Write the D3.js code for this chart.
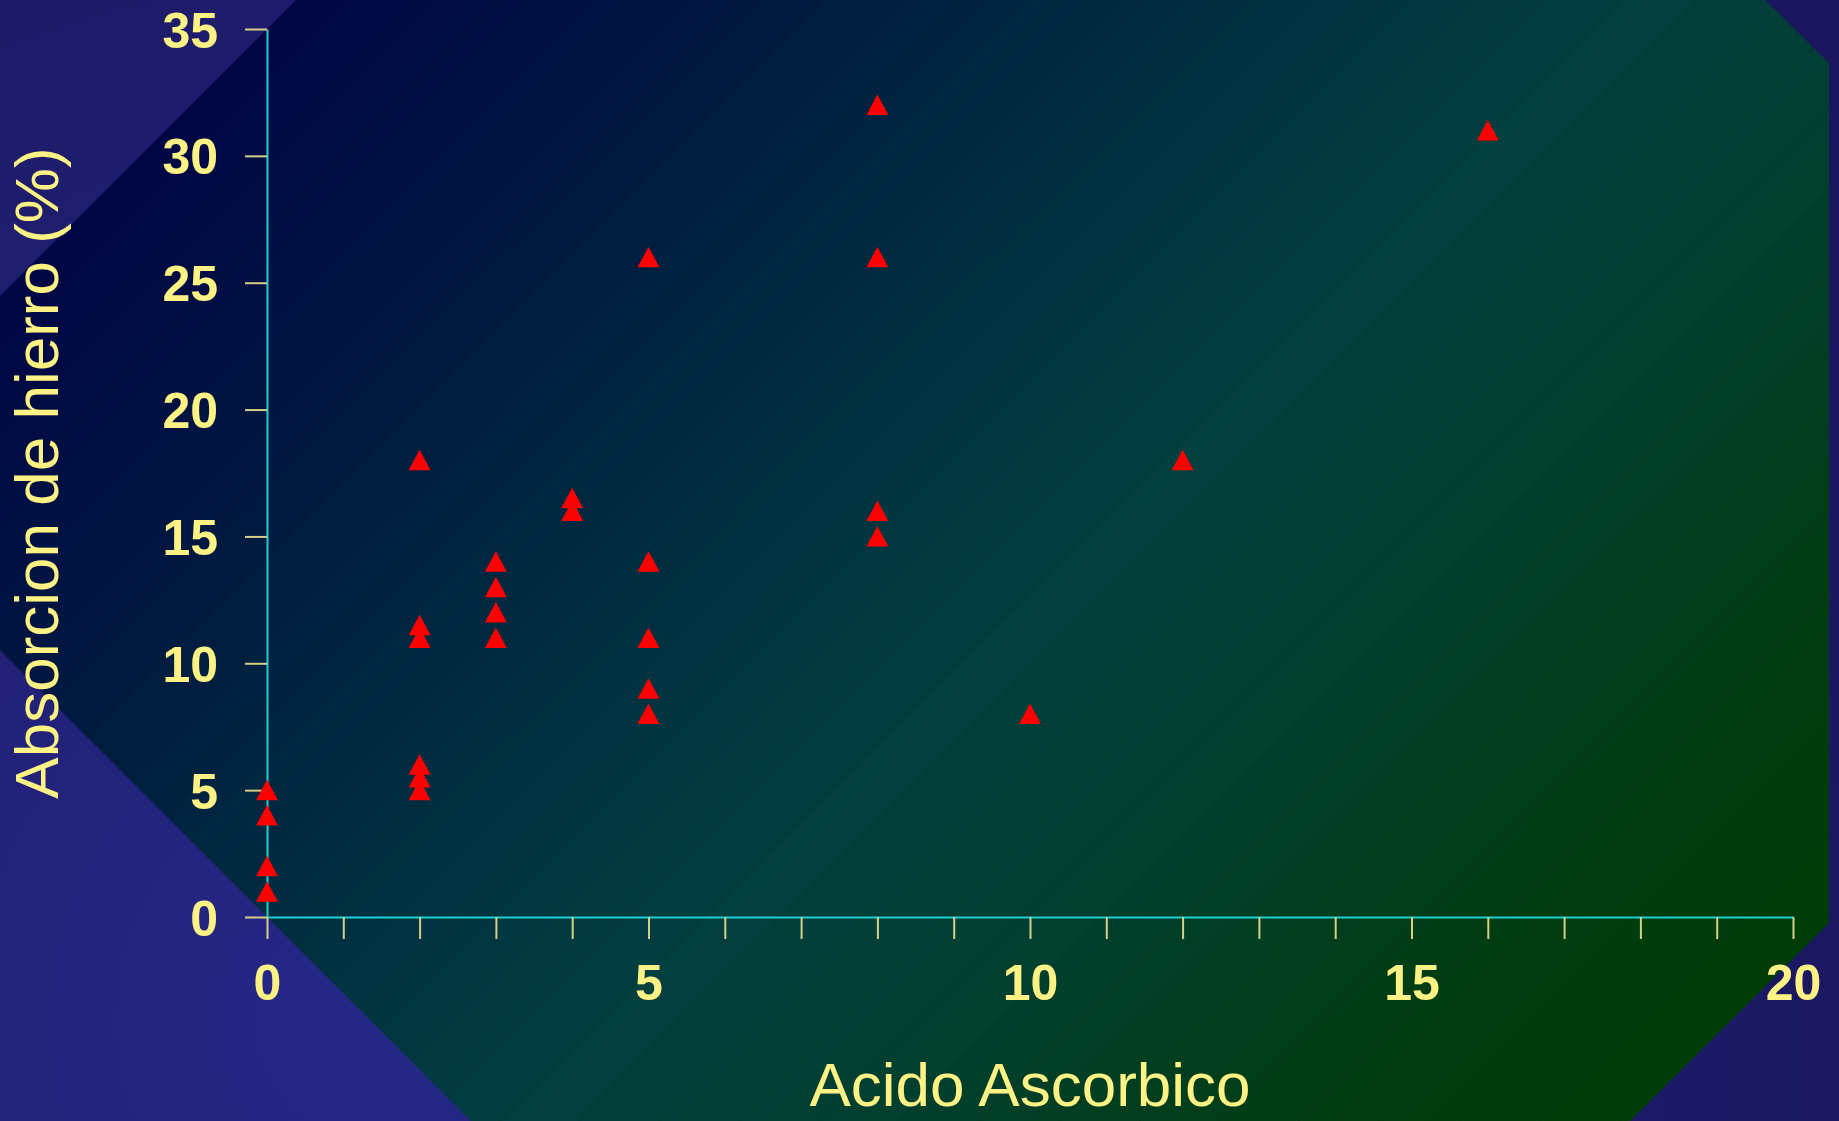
<!DOCTYPE html>
<html>
<head>
<meta charset="utf-8">
<script src="https://cdn.jsdelivr.net/npm/d3@7"></script>
<style>
  html, body { margin: 0; padding: 0; background: #1c1a66; }
  svg { display: block; }
</style>
</head>
<body>
<svg id="chart"></svg>
<script>
// Ascorbic acid dose vs. iron absorption (%)
const acidoAscorbico = [0, 0, 0, 0, 2, 2, 2, 2, 2, 2, 3, 3, 3, 3, 4, 4, 5, 5, 5, 5, 5, 8, 8, 8, 8, 10, 12, 16];
const absorcionHierro = [5, 4, 2, 1, 18, 11.5, 11, 6, 5.5, 5, 14, 13, 12, 11, 16.5, 16, 26, 14, 11, 9, 8, 32, 26, 16, 15, 8, 18, 31];
const xTickValues = d3.range(0, 21, 1);
const xTickLabels = [0, 5, 10, 15, 20];
const yTickValues = [0, 5, 10, 15, 20, 25, 30, 35];
const xTitle = "Acido Ascorbico";
const yTitle = "Absorcion de hierro (%)";

const W = 1839, H = 1121;
const svg = d3.select("#chart").attr("width", W).attr("height", H);
const defs = svg.append("defs");

// outer backdrop
const rg = defs.append("radialGradient").attr("id", "outerBg")
  .attr("gradientUnits", "userSpaceOnUse")
  .attr("cx", 380).attr("cy", 1020).attr("r", 1650);
rg.append("stop").attr("offset", 0).attr("stop-color", "#262888");
rg.append("stop").attr("offset", 0.45).attr("stop-color", "#201e70");
rg.append("stop").attr("offset", 1).attr("stop-color", "#1a175e");
svg.append("rect").attr("width", W).attr("height", H).attr("fill", "url(#outerBg)");

// diagonal panel gradient: navy -> teal -> green
const lg = defs.append("linearGradient").attr("id", "panelBg")
  .attr("gradientUnits", "userSpaceOnUse")
  .attr("x1", 0).attr("y1", 0).attr("x2", 1480).attr("y2", 1480);
[[0, "#00033e"], [0.12, "#000845"], [0.28, "#001c40"], [0.42, "#002f40"],
 [0.55, "#023f40"], [0.68, "#013f2e"], [0.82, "#003d12"], [1, "#003c00"]]
  .forEach(([o, c]) => lg.append("stop").attr("offset", o).attr("stop-color", c));

const panelPts = [[296, 0], [1765, 0], [1829, 63], [1829, 923], [1630, 1121], [471, 1121], [0, 650], [0, 296]];
defs.append("clipPath").attr("id", "panelClip")
  .append("polygon").attr("points", panelPts.map(p => p.join(",")).join(" "));
svg.append("polygon").attr("points", panelPts.map(p => p.join(",")).join(" "))
  .attr("fill", "url(#panelBg)");

// faint diagonal banding across the panel
const bands = svg.append("g").attr("clip-path", "url(#panelClip)");
d3.range(20, W + H + 80, 80).forEach(c => {
  bands.append("line")
    .attr("x1", 0).attr("y1", c).attr("x2", c).attr("y2", 0)
    .attr("stroke", "rgba(0,0,0,0.2)").attr("stroke-width", 1);
});

// scales
const x = d3.scaleLinear().domain([0, 20]).range([267, 1793]);
const y = d3.scaleLinear().domain([0, 35]).range([917, 29]);

const textColor = "#fff284";
const tickColor = "#d6cf88";
const axisColor = "#1fd0d0";
const font = "'Liberation Sans', Arial, Helvetica, sans-serif";

// y axis
const yAxis = svg.append("g").attr("transform", `translate(${x(0)},0)`)
  .call(d3.axisLeft(y).tickValues(yTickValues).tickSize(22).tickSizeOuter(0).tickPadding(27));
yAxis.select(".domain").attr("stroke", axisColor).attr("stroke-width", 2);
yAxis.selectAll(".tick line").attr("stroke", tickColor).attr("stroke-width", 2);
yAxis.selectAll(".tick text")
  .attr("fill", textColor).attr("font-family", font).attr("font-weight", "bold")
  .attr("font-size", 50).attr("dy", "0.36em");

// x axis
const xAxis = svg.append("g").attr("transform", `translate(0,${y(0)})`)
  .call(d3.axisBottom(x).tickValues(xTickValues).tickSize(22).tickSizeOuter(0).tickPadding(25)
    .tickFormat(d => xTickLabels.includes(d) ? d : ""));
xAxis.select(".domain").attr("stroke", axisColor).attr("stroke-width", 2);
xAxis.selectAll(".tick line").attr("stroke", tickColor).attr("stroke-width", 2);
xAxis.selectAll(".tick text")
  .attr("fill", textColor).attr("font-family", font).attr("font-weight", "bold")
  .attr("font-size", 50);

// axis titles
svg.append("text")
  .attr("x", x(10)).attr("y", 1106)
  .attr("text-anchor", "middle")
  .attr("fill", textColor).attr("font-family", font).attr("font-size", 62)
  .text(xTitle);
svg.append("text")
  .attr("transform", `translate(58,${(y(0) + y(35)) / 2}) rotate(-90)`)
  .attr("text-anchor", "middle")
  .attr("fill", textColor).attr("font-family", font).attr("font-size", 62)
  .text(yTitle);

// data points: red triangles
const pts = acidoAscorbico.map((d, i) => ({ x: d, y: absorcionHierro[i] }));
svg.append("g").selectAll("path").data(pts).join("path")
  .attr("d", d => {
    const cx = x(d.x), cy = y(d.y);
    return `M${cx},${cy - 10.5}L${cx + 11},${cy + 10}L${cx - 11},${cy + 10}Z`;
  })
  .attr("fill", "#ff0000");
</script>
</body>
</html>
